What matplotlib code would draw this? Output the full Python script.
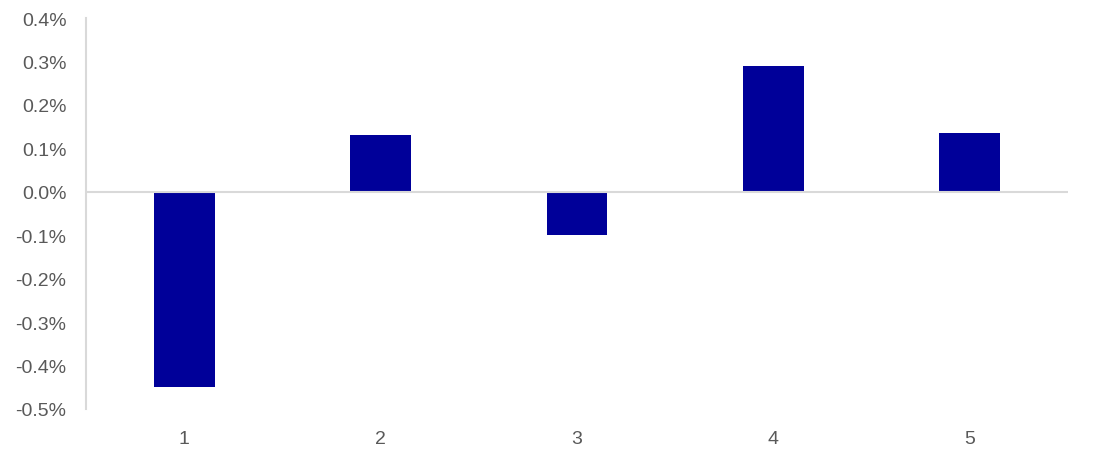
import matplotlib.pyplot as plt
from matplotlib.ticker import FuncFormatter

plt.rcParams['font.family'] = ['Liberation Sans', 'DejaVu Sans']

categorias = ["1", "2", "3", "4", "5"]
valores = [-0.449, 0.131, -0.099, 0.289, 0.135]  # en %

azul = "#000099"
gris_texto = "#595959"
gris_linea = "#d9d9d9"

fig = plt.figure(figsize=(11.04, 4.56), dpi=100)
ax = fig.add_axes([0.0779, 0.1009, 0.8895, 0.8574])

ax.bar(range(len(categorias)), valores, width=0.31, color=azul, zorder=2)
ax.axhline(0, color=gris_linea, lw=1.5, zorder=3)

ax.set_xlim(-0.5, len(categorias) - 0.5)
ax.set_ylim(-0.5, 0.4)
ax.set_yticks([i / 10 for i in range(-5, 5)])
ax.yaxis.set_major_formatter(FuncFormatter(lambda v, p: f"{v:.1f}%"))
ax.set_xticks(range(len(categorias)))
ax.set_xticklabels(categorias)

for lado in ["top", "right", "bottom"]:
    ax.spines[lado].set_visible(False)
ax.spines["left"].set_color(gris_linea)
ax.spines["left"].set_linewidth(1.5)

ax.tick_params(axis="both", length=0, labelsize=14, colors=gris_texto)
ax.tick_params(axis="y", pad=14)
ax.tick_params(axis="x", pad=15)

fig.savefig("out.png", dpi=100)
